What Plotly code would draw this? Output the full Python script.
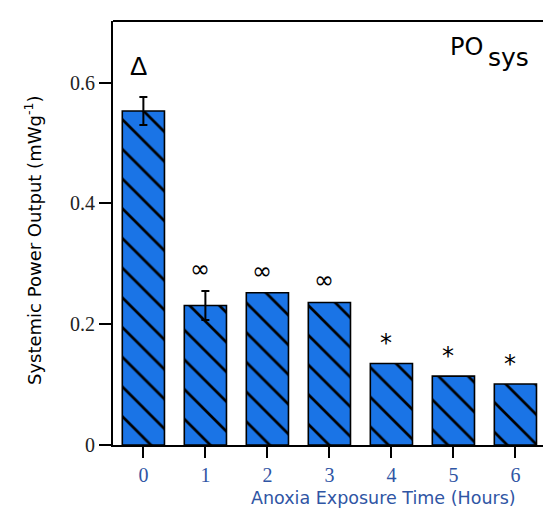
import plotly.graph_objects as go

# Systemic power output after anoxia exposure
hours = [0, 1, 2, 3, 4, 5, 6]
tick_text = ["0", "1", "2", "3", "4", "5", "6"]
power = [0.553, 0.231, 0.252, 0.236, 0.135, 0.114, 0.101]
sem_hours = [0, 1]
sem = [0.023, 0.024]
markers = ["Δ", "∞", "∞", "∞", "*", "*", "*"]

BLUE = "#1a74e6"
TICK_BLUE = "#2f55a4"

fig = go.Figure()
fig.add_trace(go.Bar(
    x=hours,
    y=power,
    width=0.68,
    marker=dict(
        color=BLUE,
        line=dict(color="black", width=1.6),
        pattern=dict(shape="\\", size=21, solidity=0.13, fgopacity=1,
                     fgcolor="black", bgcolor=BLUE, fillmode="overlay"),
    ),
    showlegend=False,
))

# standard-error bars (first two time points only)
fig.add_trace(go.Scatter(
    x=sem_hours,
    y=power[:len(sem_hours)],
    mode="markers",
    marker=dict(size=0.1, color="rgba(0,0,0,0)"),
    error_y=dict(type="data", array=sem, visible=True, color="black",
                 thickness=2, width=4),
    showlegend=False, hoverinfo="skip",
))

# significance markers above each bar
err_lookup = dict(zip(sem_hours, sem))
style = {
    "Δ": dict(family="Liberation Sans", size=26, shift=14),
    "∞": dict(family="DejaVu Sans", size=24, shift=6),
    "*": dict(family="DejaVu Sans", size=24, shift=4),
}
for h, v, m in zip(hours, power, markers):
    s = style[m]
    fig.add_annotation(
        x=h, y=v + err_lookup.get(h, 0), xref="x", yref="y",
        text=m, showarrow=False, xshift=-5,
        yanchor="bottom", yshift=s["shift"],
        font=dict(family=s["family"], size=s["size"], color="black"),
    )

# panel label
fig.add_annotation(xref="paper", yref="paper", x=0.865, y=0.939,
                   text="PO", showarrow=False, xanchor="right", yanchor="middle",
                   font=dict(family="DejaVu Sans", size=24, color="black"))
fig.add_annotation(xref="paper", yref="paper", x=0.867, y=0.914,
                   text="sys", showarrow=False, xanchor="left", yanchor="middle",
                   font=dict(family="DejaVu Sans", size=25, color="black"))

# axis titles
fig.add_annotation(xref="paper", yref="paper", x=0.63, y=-0.125,
                   text="Anoxia Exposure Time (Hours)", showarrow=False,
                   xanchor="center", yanchor="middle",
                   font=dict(family="DejaVu Sans", size=17.5, color=TICK_BLUE))
fig.add_annotation(xref="paper", yref="paper", x=-0.186, y=0.4835,
                   text="Systemic Power Output (mWg<sup>-1</sup>)", showarrow=False,
                   textangle=-90, xanchor="center", yanchor="middle",
                   font=dict(family="DejaVu Sans", size=18, color="black"))

# frame top edge
fig.add_shape(type="line", xref="paper", yref="paper", x0=0, x1=1, y0=1, y1=1,
              line=dict(color="black", width=2))

fig.update_layout(
    width=543, height=516,
    margin=dict(l=113, r=0, t=21, b=71),
    paper_bgcolor="white", plot_bgcolor="white",
    xaxis=dict(
        range=[-0.49, 6.445],
        tickvals=hours, ticktext=tick_text,
        ticks="outside", ticklen=11, tickwidth=2, tickcolor="black",
        showline=True, linecolor="black", linewidth=2,
        showgrid=False, zeroline=False,
        tickfont=dict(family="Liberation Serif", size=20, color=TICK_BLUE),
    ),
    yaxis=dict(
        range=[0, 0.702],
        tickvals=[0, 0.2, 0.4, 0.6],
        ticktext=["0", "0.2", "0.4", "0.6"],
        ticks="outside", ticklen=12, tickwidth=1.5, tickcolor="black",
        showline=True, linecolor="black", linewidth=2,
        showgrid=False, zeroline=False,
        tickfont=dict(family="Liberation Serif", size=20, color="#222222"),
    ),
)

fig.write_html("out.html")
